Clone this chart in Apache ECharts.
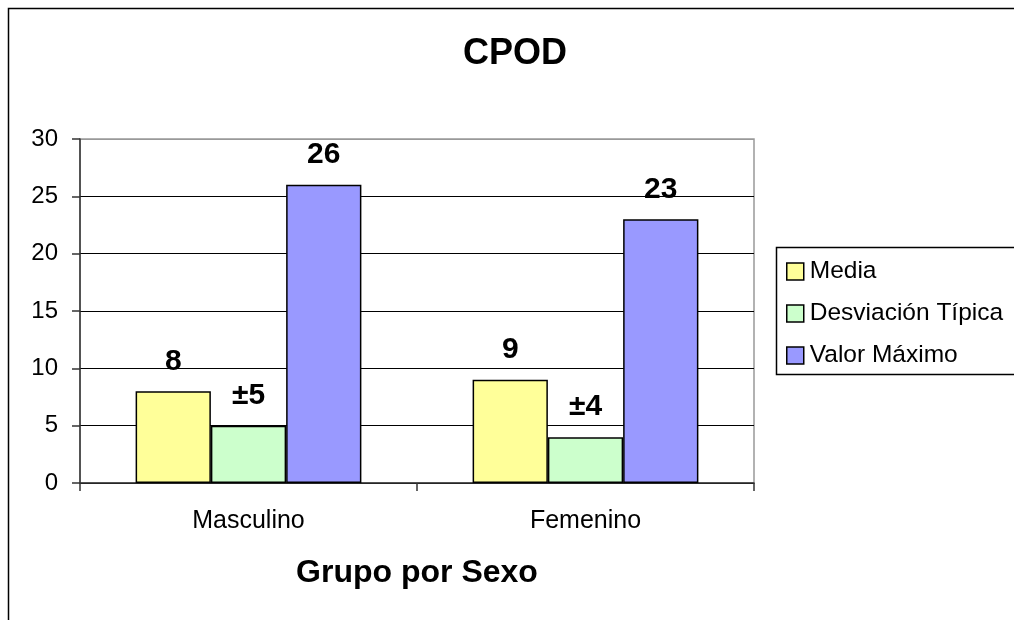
<!DOCTYPE html>
<html>
<head>
<meta charset="utf-8">
<script src="https://cdn.jsdelivr.net/npm/echarts@6/dist/echarts.min.js"></script>
<style>html,body{margin:0;padding:0;background:#fff}#c{width:1014px;height:620px}</style>
</head>
<body>
<div id="c"></div>
<script>
var categories = ['Masculino', 'Femenino'];
var seriesNames = ['Media', 'Desviación Típica', 'Valor Máximo'];
var media = [8, 9];
var desviacion = [5, 4];
var valorMaximo = [26, 23];
var mediaLabels = ['8', '9'];
var desviacionLabels = ['±5', '±4'];
var maximoLabels = ['26', '23'];
var yTicks = [0, 5, 10, 15, 20, 25, 30];

var FONT = "'Liberation Sans', Arial, sans-serif";
var colors = ['#FFFF99', '#CCFFCC', '#9999FF'];

function mkSeries(name, data, labels, color) {
  return {
    name: name,
    type: 'bar',
    data: data,
    barGap: '0%',
    barCategoryGap: '33%',
    itemStyle: { color: color, borderColor: '#000', borderWidth: 1.5 },
    label: {
      show: true,
      position: 'top',
      distance: 15,
      fontFamily: FONT,
      fontSize: 30,
      fontWeight: 'bold',
      color: '#000',
      formatter: function (p) { return labels[p.dataIndex]; }
    },
    emphasis: { disabled: true },
    animation: false
  };
}

var chart = echarts.init(document.getElementById('c'), null, { renderer: 'canvas' });
chart.setOption({
  animation: false,
  backgroundColor: '#fff',
  title: {
    text: 'CPOD',
    left: 515,
    top: 36,
    textAlign: 'center',
    padding: 0,
    textStyle: { fontFamily: FONT, fontSize: 36, fontWeight: 'bold', color: '#000' }
  },
  graphic: [
    { type: 'rect', z: -10, silent: true, shape: { x: 8.5, y: 8.5, width: 1200, height: 800 }, style: { fill: '#fff', stroke: '#000', lineWidth: 1.5 } },
    { type: 'rect', z: -5, silent: true, shape: { x: 776.5, y: 247.5, width: 400, height: 127 }, style: { fill: '#fff', stroke: '#000', lineWidth: 1.5 } }
  ],
  legend: {
    orient: 'vertical',
    left: 786,
    top: 259,
    padding: 0,
    itemWidth: 17,
    itemHeight: 17,
    itemGap: 17,
    icon: 'rect',
    selectedMode: false,
    z: 5,
    itemStyle: { borderColor: '#000', borderWidth: 1.5 },
    textStyle: { fontFamily: FONT, fontSize: 24.5, color: '#000', padding: [0, 0, 0, 1] },
    data: seriesNames
  },
  grid: {
    left: 80, right: 260, top: 139, bottom: 137,
    show: true, borderColor: '#999', borderWidth: 1.5, backgroundColor: '#fff'
  },
  xAxis: {
    type: 'category',
    data: categories,
    name: 'Grupo por Sexo',
    nameLocation: 'middle',
    nameGap: 74,
    nameTextStyle: { fontFamily: FONT, fontSize: 32, fontWeight: 'bold', color: '#000' },
    axisLine: { lineStyle: { color: '#333', width: 1.5 } },
    axisTick: { show: true, length: 8, lineStyle: { color: '#333', width: 1.5 } },
    axisLabel: { fontFamily: FONT, fontSize: 25, color: '#000', margin: 26 }
  },
  yAxis: {
    type: 'value',
    min: yTicks[0],
    max: yTicks[yTicks.length - 1],
    interval: 5,
    axisLine: { show: true, lineStyle: { color: '#333', width: 1.5 } },
    axisTick: { show: true, length: 8, lineStyle: { color: '#333', width: 1.5 } },
    axisLabel: { fontFamily: FONT, fontSize: 24, color: '#000', margin: 22 },
    splitLine: { show: true, lineStyle: { color: ['#000', '#000', '#000', '#000', '#000', '#000', '#999'], width: 1.2 } }
  },
  series: [
    mkSeries(seriesNames[0], media, mediaLabels, colors[0]),
    mkSeries(seriesNames[1], desviacion, desviacionLabels, colors[1]),
    mkSeries(seriesNames[2], valorMaximo, maximoLabels, colors[2])
  ]
});
</script>
</body>
</html>
